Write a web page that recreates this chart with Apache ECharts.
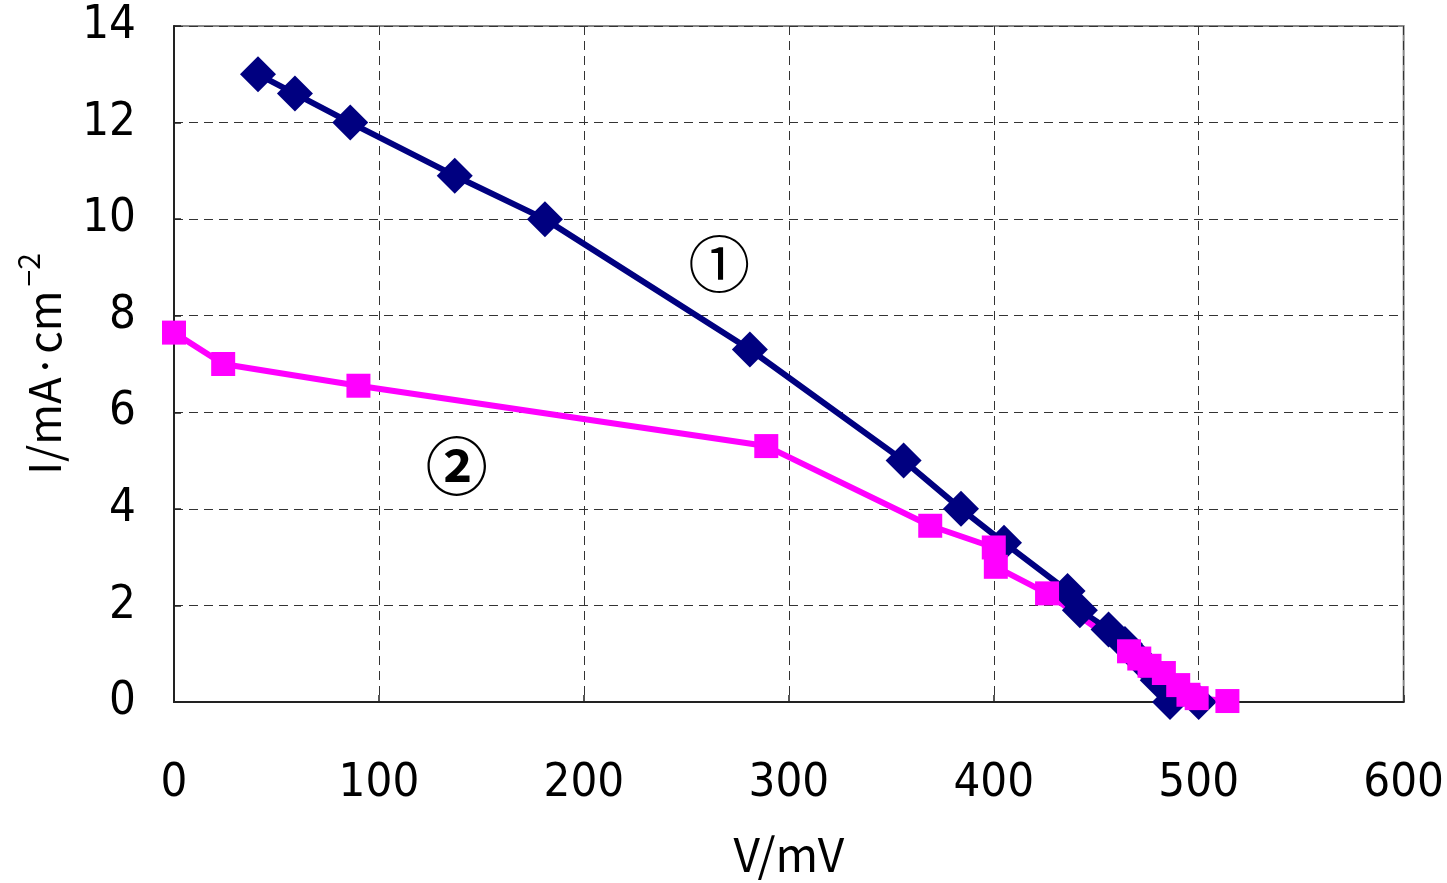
<!DOCTYPE html>
<html>
<head>
<meta charset="utf-8">
<script src="https://cdn.jsdelivr.net/npm/echarts@6/dist/echarts.min.js"></script>
<style>
html,body{margin:0;padding:0;background:#fff;}
#chart{width:1447px;height:883px;}
</style>
</head>
<body>
<div id="chart"></div>
<script>
// Series 1 (①): V/mV, I/mA·cm^-2
const series1 = [
  [41,13.0],[59,12.6],[86,12.0],[137,10.9],[181,10.0],[281,7.3],[356,5.0],
  [384,4.0],[405,3.3],[436,2.3],[442,1.9],[456,1.5],[464,1.2],[472,0.85],
  [480,0.45],[486,0.0],[500,0.0]
];
// Series 2 (②)
const series2 = [
  [0,7.65],[24,7.0],[90,6.55],[289,5.3],[369,3.65],[400,3.2],[401,2.8],
  [426,2.25],[466,1.05],[471,0.9],[476,0.75],[483,0.6],[490,0.35],
  [495,0.15],[499,0.08],[514,0.02]
];
const label1 = {text:'①', coord:[266,9.07]};
const label2 = {text:'②', coord:[138,4.87]};
const xTicks = [0,100,200,300,400,500,600];
const yTicks = [0,2,4,6,8,10,12,14];

const tickFont = "'Liberation Sans Narrow','DejaVu Sans Condensed','Arial Narrow',sans-serif";
const nameFont = "'Noto Sans CJK JP','Noto Sans',sans-serif";

const chart = echarts.init(document.getElementById('chart'), null, {renderer:'canvas'});
chart.setOption({
  animation:false,
  backgroundColor:'#fff',
  grid:{left:174, top:26, width:1232, height:681, containLabel:false,
        show:true, borderColor:'#888', borderWidth:2, backgroundColor:'transparent'},
  xAxis:{
    type:'value', min:xTicks[0], max:xTicks[xTicks.length-1], interval:100,
    name:'V/mV', nameLocation:'middle', nameGap:130,
    nameTextStyle:{fontFamily:nameFont, fontSize:46, color:'#000'},
    axisLine:{show:true, onZero:false, lineStyle:{color:'#222', width:2}},
    axisTick:{show:true, inside:true, length:7, lineStyle:{color:'#222', width:1.5}},
    axisLabel:{margin:58, fontFamily:tickFont, fontSize:47, color:'#000'},
    splitLine:{show:true, lineStyle:{color:'#333', width:1, type:[9,6]}}
  },
  yAxis:{
    type:'value', min:yTicks[0], max:yTicks[yTicks.length-1], interval:2,
    name:'I/mA·cm{sup|−2}', nameLocation:'middle', nameGap:100, nameRotate:90,
    nameTextStyle:{fontFamily:nameFont, fontSize:44, color:'#000',
      rich:{sup:{fontFamily:nameFont, fontSize:30, color:'#000', padding:[0,0,30,4]}}},
    axisLine:{show:true, onZero:false, lineStyle:{color:'#222', width:2}},
    axisTick:{show:true, inside:true, length:7, lineStyle:{color:'#222', width:1.5}},
    axisLabel:{margin:38, fontFamily:tickFont, fontSize:47, color:'#000'},
    splitLine:{show:true, lineStyle:{color:'#333', width:1, type:[9,6]}}
  },
  series:[
    {
      type:'line', data:series1, symbol:'diamond', symbolSize:36,
      lineStyle:{color:'#000080', width:6}, itemStyle:{color:'#000080'},
      markPoint:{
        symbol:'circle', symbolSize:0,
        label:{show:true, position:'inside', formatter:label1.text,
               fontFamily:nameFont, fontSize:62, color:'#000'},
        data:[{coord:label1.coord, value:0}]
      }
    },
    {
      type:'line', data:series2, symbol:'rect', symbolSize:24,
      lineStyle:{color:'#FF00FF', width:6}, itemStyle:{color:'#FF00FF'},
      markPoint:{
        symbol:'circle', symbolSize:0,
        label:{show:true, position:'inside', formatter:label2.text,
               fontFamily:nameFont, fontSize:62, fontWeight:'bold', color:'#000'},
        data:[{coord:label2.coord, value:0}]
      }
    }
  ]
});
</script>
</body>
</html>
